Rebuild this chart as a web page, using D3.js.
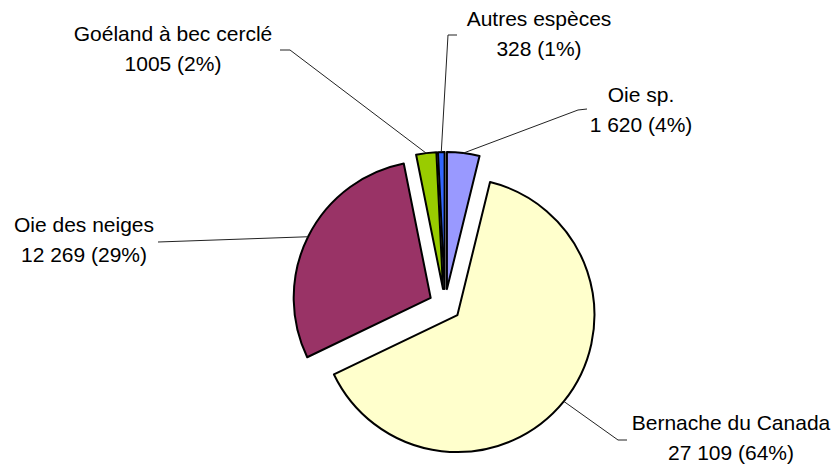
<!DOCTYPE html>
<html><head><meta charset="utf-8">
<script src="https://cdn.jsdelivr.net/npm/d3@7"></script>
<style>
html,body{margin:0;padding:0;background:#fff;}
svg{display:block;}
text{font-family:"Liberation Sans",Arial,sans-serif;font-size:21px;fill:#000;}
</style></head>
<body>
<svg id="chart" width="839" height="466"></svg>
<script>
// Data
const categories = ["Oie sp.", "Bernache du Canada", "Oie des neiges", "Goéland à bec cerclé", "Autres espèces"];
const values = [1620, 27109, 12269, 1005, 328];
const valueLabels = ["1 620", "27 109", "12 269", "1005", "328"];
const colors = ["#9999FF", "#FFFFCC", "#993366", "#99CC00", "#3366FF"];

// Layout (label positions, elbows)
const labelPos = [
  {x: 641, y: 102, elbow: [[578,110],[587,109]]},
  {x: 731, y: 430, elbow: [[618,440],[627,440]]},
  {x: 84,  y: 232, elbow: [[158,242]]},
  {x: 173, y: 41,  elbow: [[290,50],[280,50]]},
  {x: 539, y: 26,  elbow: [[448,35],[457,35]]}
];

const svg = d3.select("#chart");
const cx = 445, cy = 305, r = 137, explode = 16;
const total = d3.sum(values);
const pie = d3.pie().sort(null).value(d => d)(values);
const arc = d3.arc().innerRadius(0).outerRadius(r);
const g = svg.append("g").attr("transform", `translate(${cx},${cy})`);

function polar(a, rad){ return [Math.sin(a)*rad, -Math.cos(a)*rad]; }

g.selectAll("path.slice").data(pie).join("path")
  .attr("class","slice")
  .attr("d", arc)
  .attr("transform", d => { const m=(d.startAngle+d.endAngle)/2; const p=polar(m,explode); return `translate(${p[0]},${p[1]})`; })
  .attr("fill", (d,i) => colors[i])
  .attr("stroke", "#000")
  .attr("stroke-width", 2)
  .attr("stroke-linejoin","round");

// leader lines
const line = d3.line();
pie.forEach((d,i) => {
  const m = (d.startAngle+d.endAngle)/2;
  const p = polar(m, r+explode);
  const pts = [[cx+p[0], cy+p[1]]].concat(labelPos[i].elbow);
  svg.append("path").attr("d", line(pts)).attr("fill","none")
    .attr("stroke","#222").attr("stroke-width",1);
});

// labels
pie.forEach((d,i) => {
  const pct = Math.round(values[i]/total*100);
  const t = svg.append("text").attr("text-anchor","middle")
    .attr("x", labelPos[i].x).attr("y", labelPos[i].y);
  t.append("tspan").attr("x", labelPos[i].x).text(categories[i]);
  t.append("tspan").attr("x", labelPos[i].x).attr("dy", 29.5).text(`${valueLabels[i]} (${pct}%)`);
});
</script>
</body></html>
